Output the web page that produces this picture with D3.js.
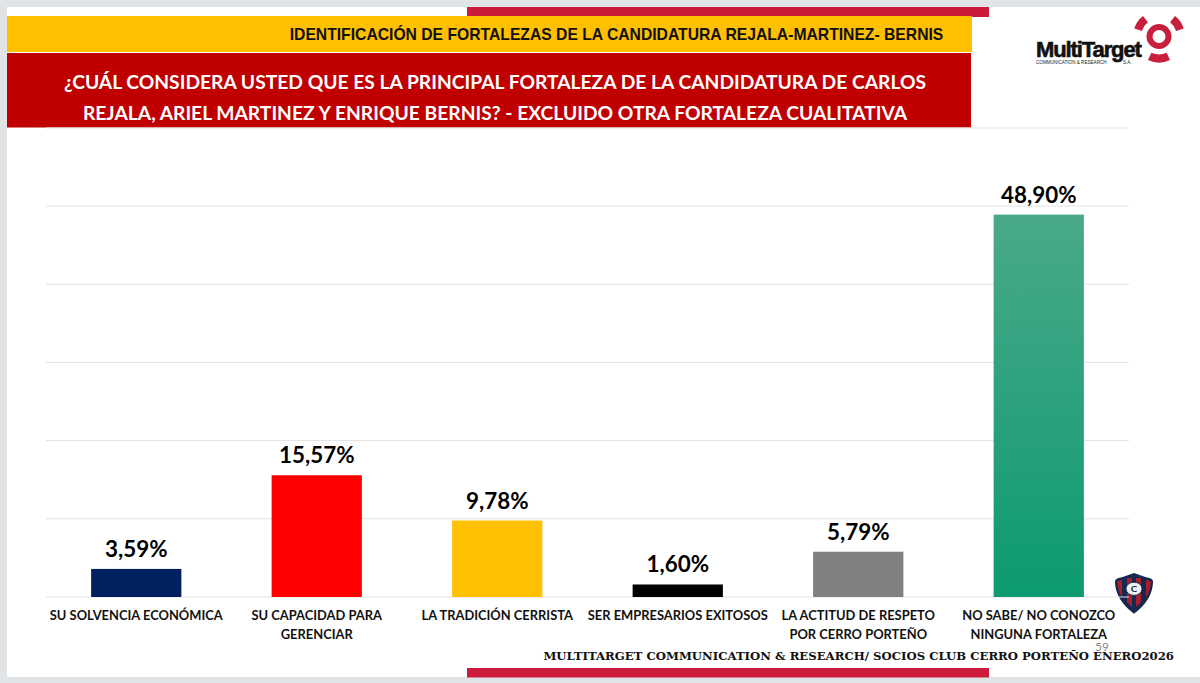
<!DOCTYPE html>
<html>
<head>
<meta charset="utf-8">
<script src="https://cdn.jsdelivr.net/npm/d3@7"></script>
<style>
html, body { margin: 0; padding: 0; background: #e1e4e6; }
svg { display: block; }
</style>
</head>
<body>
<svg id="chart" width="1200" height="683"></svg>
<script>
// chart values
var categories = [
    ["SU SOLVENCIA ECONÓMICA"],
    ["SU CAPACIDAD PARA", "GERENCIAR"],
    ["LA TRADICIÓN CERRISTA"],
    ["SER EMPRESARIOS EXITOSOS"],
    ["LA ACTITUD DE RESPETO", "POR CERRO PORTEÑO"],
    ["NO SABE/ NO CONOZCO", "NINGUNA FORTALEZA"]
];
var values = [3.59, 15.57, 9.78, 1.60, 5.79, 48.90];
var valueLabels = ["3,59%", "15,57%", "9,78%", "1,60%", "5,79%", "48,90%"];
var barColors = ["#002060", "#ff0000", "#ffc000", "#000000", "#808080", "url(#greenBar)"];
var gridTicks = [0, 10, 20, 30, 40, 50];

var headerTitle = "IDENTIFICACIÓN DE FORTALEZAS DE LA CANDIDATURA REJALA-MARTINEZ- BERNIS";
var question = [
    "¿CUÁL CONSIDERA USTED QUE ES LA PRINCIPAL FORTALEZA DE LA CANDIDATURA DE CARLOS",
    "REJALA, ARIEL MARTINEZ Y ENRIQUE BERNIS? - EXCLUIDO OTRA FORTALEZA CUALITATIVA"
];
var footer = "MULTITARGET COMMUNICATION & RESEARCH/ SOCIOS CLUB CERRO PORTEÑO ENERO2026";

var svg = d3.select("#chart");
var chartFont = "Lato, 'Open Sans', sans-serif";

// green gradient of the last bar
var grad = svg.append("defs").append("linearGradient")
    .attr("id", "greenBar").attr("x1", 0).attr("x2", 0).attr("y1", 0).attr("y2", 1);
grad.append("stop").attr("offset", "0%").attr("stop-color", "#4aa98a");
grad.append("stop").attr("offset", "100%").attr("stop-color", "#0c9a70");

// slide background and bands
svg.append("rect").attr("x", 7).attr("y", 7).attr("width", 1193).attr("height", 670).attr("fill", "#ffffff");
svg.append("rect").attr("x", 467).attr("y", 7).attr("width", 522).attr("height", 10).attr("fill", "#cc1a3a");
svg.append("rect").attr("x", 467).attr("y", 668).attr("width", 522).attr("height", 9.5).attr("fill", "#cc1a3a");
svg.append("rect").attr("x", 7).attr("y", 16).attr("width", 965).attr("height", 36).attr("fill", "#ffc000");
svg.append("rect").attr("x", 7).attr("y", 53).attr("width", 964).attr("height", 74.5).attr("fill", "#c00000");
svg.append("line").attr("x1", 46).attr("x2", 1128).attr("y1", 128).attr("y2", 128)
    .attr("stroke", "#e4e4e4").attr("stroke-width", 1);

svg.append("text").attr("x", 616.5).attr("y", 39.5).attr("text-anchor", "middle")
    .attr("font-family", "'Liberation Sans', Arial, sans-serif").attr("font-weight", "bold")
    .attr("font-size", 15.7).attr("fill", "#111111").text(headerTitle);

svg.selectAll(".question").data(question).enter().append("text")
    .attr("class", "question")
    .attr("x", 495).attr("y", (d, i) => 89 + i * 31)
    .attr("text-anchor", "middle")
    .attr("font-family", chartFont).attr("font-weight", "bold")
    .attr("font-size", 19.25).attr("fill", "#ffffff").text(d => d);

// club crest, sits under the gridlines
var crest = svg.append("g").attr("transform", "translate(1134,573) scale(1,0.83)");
crest.append("path").attr("d", "M0,-1 L-12,4 Q-20,5 -19,11 Q-18,32 0,48 Q18,32 19,11 Q20,5 12,4 Z").attr("fill", "#15284f").attr("transform", "translate(0,1)");
crest.append("path").attr("d", "M-7,6 L-2,6 L-2,41 Q-5,38 -7,35 Z M2,6 L7,6 L7,35 Q5,38 2,41 Z").attr("fill", "#a81e2d");
crest.append("path").attr("d", "M-17,10 L-12,8 L-12,30 Q-16,22 -17,10 Z M17,10 L12,8 L12,30 Q16,22 17,10 Z").attr("fill", "#a81e2d");
crest.append("circle").attr("cx", 0).attr("cy", 19).attr("r", 8).attr("fill", "#f0f0f0").attr("stroke", "#15284f").attr("stroke-width", 1);
crest.append("text").attr("x", 0).attr("y", 23).attr("text-anchor", "middle").attr("font-family", chartFont)
    .attr("font-weight", "bold").attr("font-size", 10).attr("fill", "#15284f").text("C");

// scales
var x = d3.scaleBand().domain(d3.range(values.length)).range([46, 1129])
    .paddingInner(0.5).paddingOuter(0.25);
var y = d3.scaleLinear().domain([0, 50]).range([597, 206]);

// gridlines
svg.selectAll(".grid").data(gridTicks).enter().append("line")
    .attr("class", "grid")
    .attr("x1", 46).attr("x2", 1129)
    .attr("y1", d => y(d)).attr("y2", d => y(d))
    .attr("stroke", "#e2e2e2").attr("stroke-width", 1);

// bars
svg.selectAll(".bar").data(values).enter().append("rect")
    .attr("class", "bar")
    .attr("x", (d, i) => x(i))
    .attr("width", x.bandwidth())
    .attr("y", d => y(d))
    .attr("height", d => y(0) - y(d))
    .attr("fill", (d, i) => barColors[i]);

// value labels
svg.selectAll(".value").data(values).enter().append("text")
    .attr("class", "value")
    .attr("x", (d, i) => x(i) + x.bandwidth() / 2)
    .attr("y", d => y(d) - 12)
    .attr("text-anchor", "middle")
    .attr("font-family", chartFont).attr("font-weight", "bold")
    .attr("font-size", 22.4).attr("fill", "#000000")
    .text((d, i) => valueLabels[i]);

// category labels
categories.forEach((lines, i) => {
    lines.forEach((line, j) => {
        svg.append("text")
            .attr("x", x(i) + x.bandwidth() / 2)
            .attr("y", 620 + j * 19)
            .attr("text-anchor", "middle")
            .attr("font-family", chartFont).attr("font-weight", "bold")
            .attr("font-size", 12.9).attr("fill", "#111111").text(line);
    });
});

// page number and footer
svg.append("text").attr("x", 1102).attr("y", 651).attr("text-anchor", "middle")
    .attr("font-family", chartFont).attr("font-size", 12).attr("fill", "#8a8a8a").text("59");
svg.append("text").attr("x", 1174).attr("y", 660).attr("text-anchor", "end")
    .attr("font-family", "'DejaVu Serif', serif").attr("font-weight", "bold")
    .attr("font-size", 11.7).attr("fill", "#111111").text(footer);

// MultiTarget logo
svg.append("text").attr("x", 1036).attr("y", 57).attr("font-family", "'Liberation Sans', sans-serif")
    .attr("font-weight", "bold").attr("font-size", 22).attr("letter-spacing", -1.1)
    .attr("stroke", "#111").attr("stroke-width", 0.6).attr("fill", "#111111").text("MultiTarget");
svg.append("text").attr("x", 1036).attr("y", 64).attr("font-family", "'Liberation Sans', sans-serif")
    .attr("font-size", 4.6).attr("fill", "#222222").text("COMMUNICATION & RESEARCH");
svg.append("text").attr("x", 1123).attr("y", 64).attr("font-family", "'Liberation Sans', sans-serif")
    .attr("font-size", 4.6).attr("fill", "#222222").text("S.A.");
var logoRed = "#c8203c";
svg.append("circle").attr("cx", 1159).attr("cy", 36.5).attr("r", 9.5)
    .attr("fill", "none").attr("stroke", logoRed).attr("stroke-width", 6);
var logoArc = d3.arc().innerRadius(18).outerRadius(26);
[[-72, -38], [38, 72], [155, 205]].forEach(a => {
    svg.append("path")
        .attr("transform", "translate(1159,36.5)")
        .attr("d", logoArc({startAngle: a[0] * Math.PI / 180, endAngle: a[1] * Math.PI / 180}))
        .attr("fill", logoRed);
});
</script>
</body>
</html>
